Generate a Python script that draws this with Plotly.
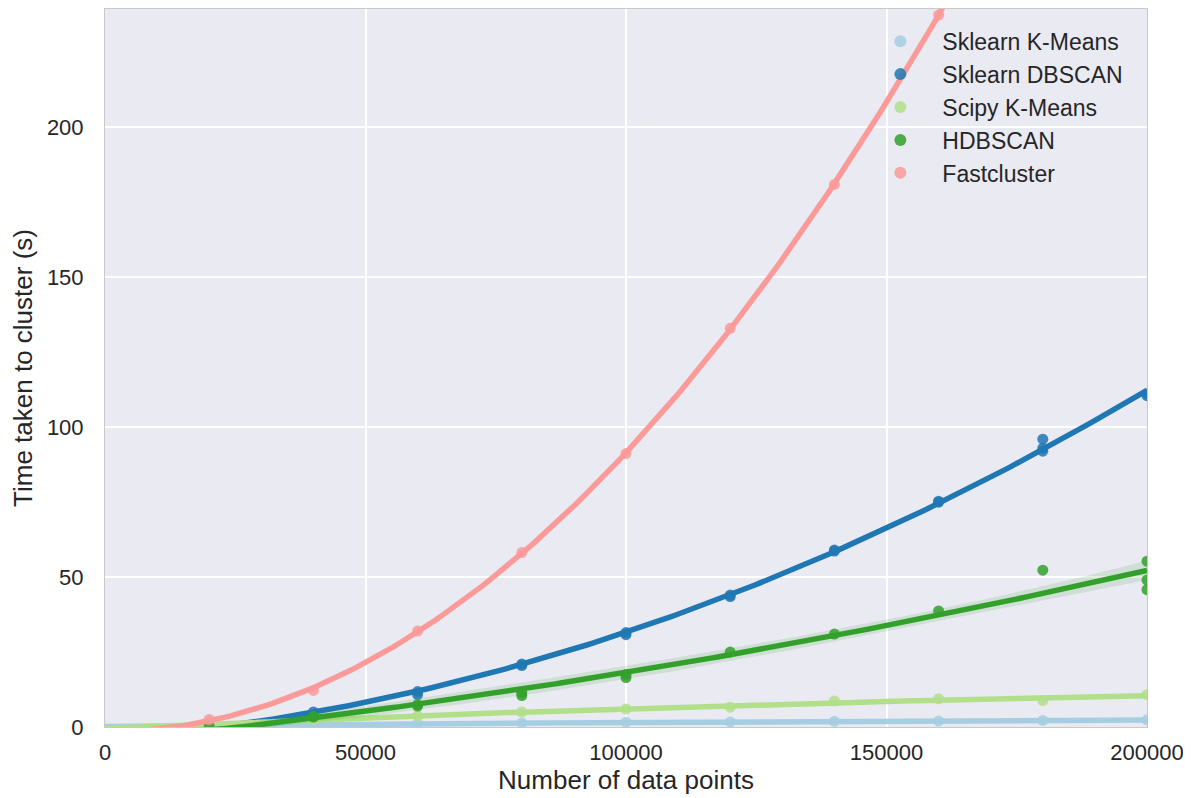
import numpy as np
import plotly.graph_objects as go

# ---- data ----
series_names = ["Sklearn K-Means", "Sklearn DBSCAN", "Scipy K-Means", "HDBSCAN", "Fastcluster"]
series_colors = ["#a6cee3", "#1f78b4", "#b2df8a", "#33a02c", "#fb9a99"]

kmeans_x = [20000, 40000, 60000, 80000, 100000, 120000, 140000, 160000, 180000, 200000]
kmeans_y = [0.4, 0.8, 1.1, 1.3, 1.6, 1.7, 1.9, 2.0, 2.2, 2.4]

dbscan_x = [20000, 40000, 60000, 60000, 80000, 80000, 100000, 100000, 120000, 120000,
            140000, 140000, 160000, 160000, 180000, 180000, 180000, 200000, 200000]
dbscan_y = [0.7, 5.0, 10.8, 11.8, 20.5, 21.0, 30.8, 31.5, 43.5, 44.0,
            58.7, 59.0, 75.0, 75.3, 92.0, 93.0, 96.0, 110.5, 111.0]

scipy_x = [20000, 40000, 60000, 80000, 100000, 120000, 140000, 160000, 180000, 200000]
scipy_y = [1.0, 2.5, 3.8, 5.0, 6.0, 6.6, 8.7, 9.4, 8.8, 10.8]

hdbscan_x = [20000, 40000, 40000, 60000, 60000, 80000, 80000, 100000, 100000, 120000,
             140000, 160000, 180000, 200000, 200000, 200000]
hdbscan_y = [0.3, 3.3, 3.6, 7.0, 7.5, 10.5, 11.5, 16.5, 17.5, 25.0,
             31.0, 38.7, 52.3, 55.3, 49.0, 45.8]

fast_x = [20000, 40000, 60000, 80000, 100000, 120000, 140000, 160000]
fast_y = [2.5, 12.2, 32.0, 58.2, 91.2, 133.0, 181.0, 237.5]

xticks = [0, 50000, 100000, 150000, 200000]
yticks = [0, 50, 100, 150, 200]

all_x = [kmeans_x, dbscan_x, scipy_x, hdbscan_x, fast_x]
all_y = [kmeans_y, dbscan_y, scipy_y, hdbscan_y, fast_y]


def hex_rgba(h, a):
    h = h.lstrip("#")
    r, g, b = int(h[0:2], 16), int(h[2:4], 16), int(h[4:6], 16)
    return f"rgba({r},{g},{b},{a})"


fig = go.Figure()
grid_x = np.linspace(0, 200000, 200)

for name, col, xs, ys in zip(series_names, series_colors, all_x, all_y):
    x = np.array(xs, float)
    y = np.array(ys, float)
    # quadratic regression (like seaborn regplot order=2)
    X = np.vstack([x ** 2, x, np.ones_like(x)]).T
    beta, *_ = np.linalg.lstsq(X, y, rcond=None)
    resid = y - X @ beta
    dof = max(len(x) - 3, 1)
    s2 = (resid @ resid) / dof
    cov = s2 * np.linalg.pinv(X.T @ X)
    G = np.vstack([grid_x ** 2, grid_x, np.ones_like(grid_x)]).T
    fit = G @ beta
    se = np.sqrt(np.einsum("ij,jk,ik->i", G, cov, G))
    lo, hi = fit - 1.96 * se, fit + 1.96 * se

    fig.add_trace(go.Scatter(x=x, y=y, mode="markers", name=name,
                             marker=dict(color=col, size=11, opacity=0.85),
                             showlegend=True))
    fig.add_trace(go.Scatter(x=np.concatenate([grid_x, grid_x[::-1]]),
                             y=np.concatenate([hi, lo[::-1]]),
                             fill="toself", fillcolor=hex_rgba(col, 0.15),
                             line=dict(width=0), mode="lines",
                             hoverinfo="skip", showlegend=False))
    fig.add_trace(go.Scatter(x=grid_x, y=fit, mode="lines",
                             line=dict(color=col, width=5.5),
                             hoverinfo="skip", showlegend=False))

font_family = "Liberation Sans, Arial, sans-serif"
fig.update_layout(
    width=1191, height=798,
    margin=dict(l=97, r=52, t=1, b=79),
    paper_bgcolor="white", plot_bgcolor="#eaeaf2",
    font=dict(family=font_family, color="#262626", size=22),
    legend=dict(x=0.723, y=0.985, xanchor="left", yanchor="top",
                bgcolor="rgba(0,0,0,0)", font=dict(size=23, color="#262626"),
                itemwidth=74, itemsizing="constant"),
    xaxis=dict(range=[0, 200000], tickvals=xticks, ticktext=[str(v) for v in xticks],
               showgrid=True, gridcolor="white", gridwidth=2, zeroline=False,
               showline=True, linecolor="#c8c8c8", linewidth=1, mirror=True,
               ticks="", ticklabelstandoff=6,
               tickfont=dict(size=22, color="#262626"),
               title=dict(text="Number of data points", font=dict(size=26, color="#262626"),
                          standoff=0)),
    yaxis=dict(range=[0, 239.5], tickvals=yticks, ticktext=[str(v) for v in yticks],
               showgrid=True, gridcolor="white", gridwidth=2, zeroline=False,
               showline=True, linecolor="#c8c8c8", linewidth=1, mirror=True,
               ticks="", ticklabelstandoff=16,
               tickfont=dict(size=22, color="#262626"),
               title=dict(text="Time taken to cluster (s)", font=dict(size=26, color="#262626"),
                          standoff=9)),
)

fig.write_html("out.html")
